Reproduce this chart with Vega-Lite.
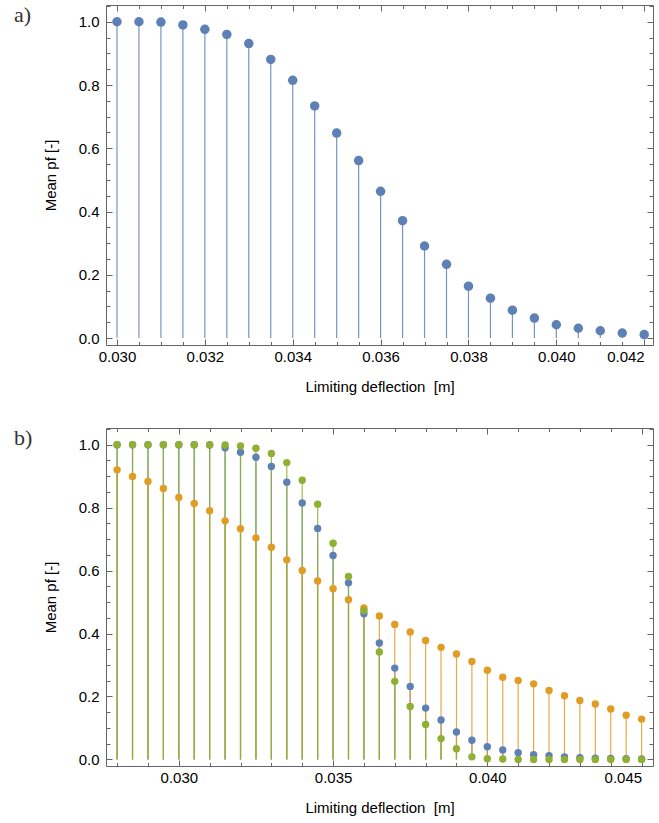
{
  "$schema": "https://vega.github.io/schema/vega-lite/v6.json",
  "padding": {"left": 13, "top": -2, "right": 0, "bottom": 0},
  "spacing": 26,
  "config": {
    "view": {"stroke": "#666666", "strokeWidth": 1},
    "axis": {"grid": false, "domain": false, "tickColor": "#666666", "labelFont": "Liberation Sans", "labelFontSize": 15, "labelColor": "#000000", "titleFont": "Liberation Sans", "titleFontSize": 15, "titleFontWeight": "normal", "titleColor": "#000000", "labelOverlap": false, "labelBound": false},
    "title": {"font": "Liberation Serif", "fontSize": 22, "fontWeight": "normal", "color": "#333333"}
  },
  "datasets": {
    "a": [
      {"x": 0.030, "p": 1.0}, {"x": 0.0305, "p": 1.0}, {"x": 0.031, "p": 0.999}, {"x": 0.0315, "p": 0.99},
      {"x": 0.032, "p": 0.976}, {"x": 0.0325, "p": 0.96}, {"x": 0.033, "p": 0.931}, {"x": 0.0335, "p": 0.881},
      {"x": 0.034, "p": 0.815}, {"x": 0.0345, "p": 0.734}, {"x": 0.035, "p": 0.648}, {"x": 0.0355, "p": 0.561},
      {"x": 0.036, "p": 0.464}, {"x": 0.0365, "p": 0.371}, {"x": 0.037, "p": 0.291}, {"x": 0.0375, "p": 0.233},
      {"x": 0.038, "p": 0.164}, {"x": 0.0385, "p": 0.126}, {"x": 0.039, "p": 0.088}, {"x": 0.0395, "p": 0.063},
      {"x": 0.040, "p": 0.042}, {"x": 0.0405, "p": 0.031}, {"x": 0.041, "p": 0.023}, {"x": 0.0415, "p": 0.016},
      {"x": 0.042, "p": 0.011}
    ],
    "b": [
      {"s": "s1", "x": 0.028, "p": 1.0}, {"s": "s1", "x": 0.0285, "p": 1.0}, {"s": "s1", "x": 0.029, "p": 1.0}, {"s": "s1", "x": 0.0295, "p": 1.0},
      {"s": "s1", "x": 0.030, "p": 1.0}, {"s": "s1", "x": 0.0305, "p": 1.0}, {"s": "s1", "x": 0.031, "p": 0.999}, {"s": "s1", "x": 0.0315, "p": 0.99},
      {"s": "s1", "x": 0.032, "p": 0.976}, {"s": "s1", "x": 0.0325, "p": 0.96}, {"s": "s1", "x": 0.033, "p": 0.931}, {"s": "s1", "x": 0.0335, "p": 0.881},
      {"s": "s1", "x": 0.034, "p": 0.815}, {"s": "s1", "x": 0.0345, "p": 0.734}, {"s": "s1", "x": 0.035, "p": 0.648}, {"s": "s1", "x": 0.0355, "p": 0.561},
      {"s": "s1", "x": 0.036, "p": 0.463}, {"s": "s1", "x": 0.0365, "p": 0.37}, {"s": "s1", "x": 0.037, "p": 0.29}, {"s": "s1", "x": 0.0375, "p": 0.232},
      {"s": "s1", "x": 0.038, "p": 0.163}, {"s": "s1", "x": 0.0385, "p": 0.125}, {"s": "s1", "x": 0.039, "p": 0.087}, {"s": "s1", "x": 0.0395, "p": 0.061},
      {"s": "s1", "x": 0.040, "p": 0.04}, {"s": "s1", "x": 0.0405, "p": 0.03}, {"s": "s1", "x": 0.041, "p": 0.021}, {"s": "s1", "x": 0.0415, "p": 0.015},
      {"s": "s1", "x": 0.042, "p": 0.012}, {"s": "s1", "x": 0.0425, "p": 0.008}, {"s": "s1", "x": 0.043, "p": 0.005}, {"s": "s1", "x": 0.0435, "p": 0.004},
      {"s": "s1", "x": 0.044, "p": 0.003}, {"s": "s1", "x": 0.0445, "p": 0.002}, {"s": "s1", "x": 0.045, "p": 0.001},
      {"s": "s2", "x": 0.028, "p": 0.92}, {"s": "s2", "x": 0.0285, "p": 0.899}, {"s": "s2", "x": 0.029, "p": 0.883}, {"s": "s2", "x": 0.0295, "p": 0.861},
      {"s": "s2", "x": 0.030, "p": 0.832}, {"s": "s2", "x": 0.0305, "p": 0.813}, {"s": "s2", "x": 0.031, "p": 0.79}, {"s": "s2", "x": 0.0315, "p": 0.758},
      {"s": "s2", "x": 0.032, "p": 0.733}, {"s": "s2", "x": 0.0325, "p": 0.704}, {"s": "s2", "x": 0.033, "p": 0.674}, {"s": "s2", "x": 0.0335, "p": 0.634},
      {"s": "s2", "x": 0.034, "p": 0.6}, {"s": "s2", "x": 0.0345, "p": 0.567}, {"s": "s2", "x": 0.035, "p": 0.542}, {"s": "s2", "x": 0.0355, "p": 0.507},
      {"s": "s2", "x": 0.036, "p": 0.481}, {"s": "s2", "x": 0.0365, "p": 0.456}, {"s": "s2", "x": 0.037, "p": 0.429}, {"s": "s2", "x": 0.0375, "p": 0.405},
      {"s": "s2", "x": 0.038, "p": 0.378}, {"s": "s2", "x": 0.0385, "p": 0.356}, {"s": "s2", "x": 0.039, "p": 0.335}, {"s": "s2", "x": 0.0395, "p": 0.311},
      {"s": "s2", "x": 0.040, "p": 0.283}, {"s": "s2", "x": 0.0405, "p": 0.261}, {"s": "s2", "x": 0.041, "p": 0.251}, {"s": "s2", "x": 0.0415, "p": 0.24},
      {"s": "s2", "x": 0.042, "p": 0.219}, {"s": "s2", "x": 0.0425, "p": 0.202}, {"s": "s2", "x": 0.043, "p": 0.187}, {"s": "s2", "x": 0.0435, "p": 0.176},
      {"s": "s2", "x": 0.044, "p": 0.16}, {"s": "s2", "x": 0.0445, "p": 0.14}, {"s": "s2", "x": 0.045, "p": 0.128},
      {"s": "s3", "x": 0.028, "p": 1.0}, {"s": "s3", "x": 0.0285, "p": 1.0}, {"s": "s3", "x": 0.029, "p": 1.0}, {"s": "s3", "x": 0.0295, "p": 1.0},
      {"s": "s3", "x": 0.030, "p": 1.0}, {"s": "s3", "x": 0.0305, "p": 1.0}, {"s": "s3", "x": 0.031, "p": 1.0}, {"s": "s3", "x": 0.0315, "p": 0.999},
      {"s": "s3", "x": 0.032, "p": 0.996}, {"s": "s3", "x": 0.0325, "p": 0.989}, {"s": "s3", "x": 0.033, "p": 0.972}, {"s": "s3", "x": 0.0335, "p": 0.943},
      {"s": "s3", "x": 0.034, "p": 0.887}, {"s": "s3", "x": 0.0345, "p": 0.811}, {"s": "s3", "x": 0.035, "p": 0.687}, {"s": "s3", "x": 0.0355, "p": 0.581},
      {"s": "s3", "x": 0.036, "p": 0.473}, {"s": "s3", "x": 0.0365, "p": 0.341}, {"s": "s3", "x": 0.037, "p": 0.248}, {"s": "s3", "x": 0.0375, "p": 0.168},
      {"s": "s3", "x": 0.038, "p": 0.111}, {"s": "s3", "x": 0.0385, "p": 0.066}, {"s": "s3", "x": 0.039, "p": 0.034}, {"s": "s3", "x": 0.0395, "p": 0.008},
      {"s": "s3", "x": 0.040, "p": 0.002}, {"s": "s3", "x": 0.0405, "p": 0.001}, {"s": "s3", "x": 0.041, "p": 0.0}, {"s": "s3", "x": 0.0415, "p": 0.0},
      {"s": "s3", "x": 0.042, "p": 0.0}, {"s": "s3", "x": 0.0425, "p": 0.0}, {"s": "s3", "x": 0.043, "p": 0.0}, {"s": "s3", "x": 0.0435, "p": 0.0},
      {"s": "s3", "x": 0.044, "p": 0.0}, {"s": "s3", "x": 0.0445, "p": 0.0}, {"s": "s3", "x": 0.045, "p": 0.0}
    ]
  },
  "vconcat": [
    {
      "width": 547,
      "height": 340,
      "title": {"text": "a)", "anchor": "start", "frame": "group", "offset": 0, "dx": -92, "dy": 28},
      "data": {"name": "a"},
      "resolve": {"axis": {"x": "independent", "y": "independent"}},
      "layer": [
        {
          "mark": {"type": "rule", "color": "#5E81B5", "strokeWidth": 1.2, "opacity": 0.85},
          "encoding": {
            "x": {"field": "x", "type": "quantitative", "scale": {"domain": [0.02975, 0.0422], "nice": false, "zero": false},
              "axis": {"orient": "bottom", "title": "Limiting deflection\u00a0 [m]", "titlePadding": 13, "labelPadding": 10, "labelFlush": 10,
                "values": [0.030,0.0305,0.031,0.0315,0.032,0.0325,0.033,0.0335,0.034,0.0345,0.035,0.0355,0.036,0.0365,0.037,0.0375,0.038,0.0385,0.039,0.0395,0.040,0.0405,0.041,0.0415,0.042],
                "labelExpr": "abs(datum.value*500-round(datum.value*500))<0.01 ? format(datum.value,'.3f') : ''",
                "tickSize": {"condition": {"test": "abs(datum.value*500-round(datum.value*500))<0.01", "value": -6}, "value": -3.5}}},
            "y": {"field": "p", "type": "quantitative", "scale": {"domain": [-0.022, 1.053], "nice": false, "zero": false},
              "axis": {"orient": "left", "title": "Mean pf [-]", "titlePadding": 20, "labelPadding": 13, "labelFlush": false,
                "values": [0,0.05,0.1,0.15,0.2,0.25,0.3,0.35,0.4,0.45,0.5,0.55,0.6,0.65,0.7,0.75,0.8,0.85,0.9,0.95,1.0,1.05],
                "labelExpr": "abs(datum.value*5-round(datum.value*5))<0.01 ? format(datum.value,'.1f') : ''",
                "tickSize": {"condition": {"test": "abs(datum.value*5-round(datum.value*5))<0.01", "value": -6}, "value": -4}}},
            "y2": {"datum": 0}
          }
        },
        {
          "mark": {"type": "circle", "color": "#5E81B5", "size": 90, "opacity": 1},
          "encoding": {
            "x": {"field": "x", "type": "quantitative", "axis": null},
            "y": {"field": "p", "type": "quantitative", "axis": null}
          }
        },
        {
          "mark": {"type": "point", "opacity": 0},
          "encoding": {
            "x": {"field": "x", "type": "quantitative",
              "axis": {"orient": "top", "title": null, "labels": false,
                "values": [0.030,0.0305,0.031,0.0315,0.032,0.0325,0.033,0.0335,0.034,0.0345,0.035,0.0355,0.036,0.0365,0.037,0.0375,0.038,0.0385,0.039,0.0395,0.040,0.0405,0.041,0.0415,0.042],
                "tickSize": {"condition": {"test": "abs(datum.value*500-round(datum.value*500))<0.01", "value": -6}, "value": -3.5}}},
            "y": {"field": "p", "type": "quantitative",
              "axis": {"orient": "right", "title": null, "labels": false,
                "values": [0,0.05,0.1,0.15,0.2,0.25,0.3,0.35,0.4,0.45,0.5,0.55,0.6,0.65,0.7,0.75,0.8,0.85,0.9,0.95,1.0,1.05],
                "tickSize": {"condition": {"test": "abs(datum.value*5-round(datum.value*5))<0.01", "value": -6}, "value": -4}}}
          }
        }
      ]
    },
    {
      "width": 547,
      "height": 338,
      "title": {"text": "b)", "anchor": "start", "frame": "group", "offset": 0, "dx": -92, "dy": 28},
      "data": {"name": "b"},
      "resolve": {"axis": {"x": "independent", "y": "independent"}},
      "layer": [
        {
          "mark": {"type": "rule", "strokeWidth": 1.2, "opacity": 0.85},
          "encoding": {
            "x": {"field": "x", "type": "quantitative", "scale": {"domain": [0.02764, 0.04537], "nice": false, "zero": false},
              "axis": {"orient": "bottom", "title": "Limiting deflection\u00a0 [m]", "titlePadding": 13, "labelPadding": 10, "labelFlush": 12,
                "values": [0.028,0.029,0.030,0.031,0.032,0.033,0.034,0.035,0.036,0.037,0.038,0.039,0.040,0.041,0.042,0.043,0.044,0.045],
                "labelExpr": "abs(datum.value*200-round(datum.value*200))<0.01 ? format(datum.value,'.3f') : ''",
                "tickSize": {"condition": {"test": "abs(datum.value*200-round(datum.value*200))<0.01", "value": -6}, "value": -3.5}}},
            "y": {"field": "p", "type": "quantitative", "scale": {"domain": [-0.021, 1.053], "nice": false, "zero": false},
              "axis": {"orient": "left", "title": "Mean pf [-]", "titlePadding": 20, "labelPadding": 13, "labelFlush": false,
                "values": [0,0.05,0.1,0.15,0.2,0.25,0.3,0.35,0.4,0.45,0.5,0.55,0.6,0.65,0.7,0.75,0.8,0.85,0.9,0.95,1.0,1.05],
                "labelExpr": "abs(datum.value*5-round(datum.value*5))<0.01 ? format(datum.value,'.1f') : ''",
                "tickSize": {"condition": {"test": "abs(datum.value*5-round(datum.value*5))<0.01", "value": -6}, "value": -4}}},
            "y2": {"datum": 0},
            "color": {"field": "s", "type": "nominal", "scale": {"domain": ["s1", "s2", "s3"], "range": ["#5E81B5", "#E19C24", "#8FB032"]}, "legend": null}
          }
        },
        {
          "mark": {"type": "circle", "size": 55, "opacity": 1},
          "encoding": {
            "x": {"field": "x", "type": "quantitative", "axis": null},
            "y": {"field": "p", "type": "quantitative", "axis": null},
            "color": {"field": "s", "type": "nominal", "legend": null}
          }
        },
        {
          "mark": {"type": "point", "opacity": 0},
          "encoding": {
            "x": {"field": "x", "type": "quantitative",
              "axis": {"orient": "top", "title": null, "labels": false,
                "values": [0.028,0.029,0.030,0.031,0.032,0.033,0.034,0.035,0.036,0.037,0.038,0.039,0.040,0.041,0.042,0.043,0.044,0.045],
                "tickSize": {"condition": {"test": "abs(datum.value*200-round(datum.value*200))<0.01", "value": -6}, "value": -3.5}}},
            "y": {"field": "p", "type": "quantitative",
              "axis": {"orient": "right", "title": null, "labels": false,
                "values": [0,0.05,0.1,0.15,0.2,0.25,0.3,0.35,0.4,0.45,0.5,0.55,0.6,0.65,0.7,0.75,0.8,0.85,0.9,0.95,1.0,1.05],
                "tickSize": {"condition": {"test": "abs(datum.value*5-round(datum.value*5))<0.01", "value": -6}, "value": -4}}}
          }
        }
      ]
    }
  ]
}
